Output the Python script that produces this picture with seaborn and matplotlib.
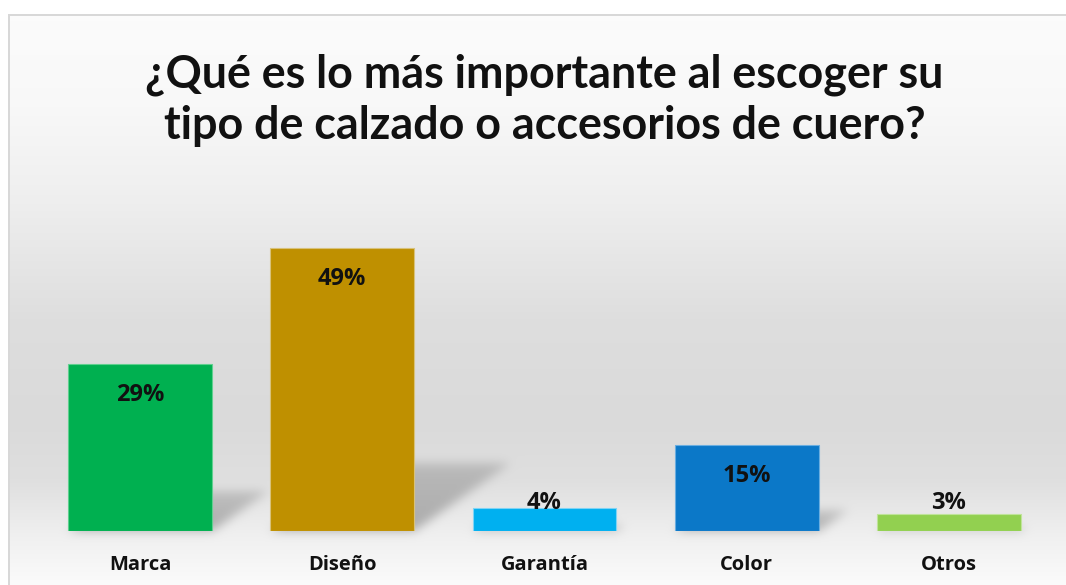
import numpy as np
import matplotlib
matplotlib.use("Agg")
import matplotlib.pyplot as plt
from matplotlib.path import Path
from matplotlib import font_manager
import seaborn as sns

# ---- data ----
categories = ["Marca", "Diseño", "Garantía", "Color", "Otros"]
values = [29, 49, 4, 15, 3]
value_labels = ["29%", "49%", "4%", "15%", "3%"]
colors = ["#00B050", "#BF9000", "#00B0F0", "#0B78C8", "#92D050"]
edge_colors = ["#5fd08f", "#d8c27a", "#7fd4f5", "#6aaee0", "#c0e49a"]
title_lines = ["¿Qué es lo más importante al escoger su",
               "tipo de calzado o accesorios de cuero?"]

W, H = 1066, 585
sns.set_theme(style="white")
plt.rcParams["font.family"] = ["Open Sans", "DejaVu Sans"]

installed = {f.name for f in font_manager.fontManager.ttflist}
title_family = ["Liberation Sans Narrow", "Lato", "DejaVu Sans"]
title_family = [f for f in title_family if f in installed]

fig = plt.figure(figsize=(W / 100, H / 100), dpi=100)
fig.patch.set_facecolor("white")

bg_ax = fig.add_axes([0, 0, 1, 1], zorder=0)
bg_ax.set_axis_off()

left_px, right_px, base_px, top_px = 39, 1050, 531, 185
ax = fig.add_axes([left_px / W, (H - base_px) / H,
                   (right_px - left_px) / W, (base_px - top_px) / H], zorder=1)
ax.patch.set_alpha(0)

sns.barplot(x=categories, y=values, hue=categories, palette=colors, legend=False,
            width=0.712, saturation=1, ax=ax, zorder=3)
for p, ec in zip(ax.patches, edge_colors):
    p.set_edgecolor(ec)
    p.set_linewidth(0.8)

ax.set_xlim(-0.5, len(categories) - 0.5)
ax.set_ylim(0, 60)
for s in ax.spines.values():
    s.set_visible(False)
ax.set_yticks([])
ax.set_xlabel("")
ax.set_ylabel("")
ax.tick_params(axis="x", length=0, pad=17.5)
for t in ax.get_xticklabels():
    t.set_fontsize(14.5)
    t.set_fontweight("bold")
    t.set_color("#111111")

for i, (v, lab) in enumerate(zip(values, value_labels)):
    x0, y0 = ax.transData.transform((i, 0))
    x1, y1 = ax.transData.transform((i, v))
    if y1 - y0 > 45:
        ax.annotate(lab, (i, v), xytext=(0, -31), textcoords="offset pixels",
                    ha="center", va="center", fontsize=17, fontweight="bold",
                    color="#111111", zorder=5)
    else:
        ax.annotate(lab, (i, 0), xytext=(0, 28), textcoords="offset pixels",
                    ha="center", va="center", fontsize=17, fontweight="bold",
                    color="#111111", zorder=5)

# ---- background gradient ----
yy = np.arange(H)
stops_y = [0, 15, 100, 200, 320, 420, 480, 535, 585]
stops_v = [0.985, 0.985, 0.975, 0.935, 0.87, 0.855, 0.875, 0.94, 0.985]
prof = np.interp(yy, stops_y, stops_v)
img = np.repeat(prof[:, None], W, axis=1)

gx, gy = np.meshgrid(np.arange(W) + 0.5, np.arange(H) + 0.5)
pts = np.column_stack([gx.ravel(), gy.ravel()])
shadow = np.zeros((H, W))
for p in ax.patches:
    bb = p.get_window_extent()
    xl, xr = bb.x0, bb.x1
    b = H - bb.y0
    h = bb.y1 - bb.y0
    dx, dy = 0.34 * h, 0.24 * h
    if dy < 1:
        continue
    poly = Path([(xl, b), (xr, b), (xr + dx, b - dy), (xl + dx, b - dy), (xl, b)])
    m = poly.contains_points(pts).reshape(H, W).astype(float)
    fade = np.clip(1 - 0.45 * (b - gy) / dy, 0, 1)
    shadow = np.maximum(shadow, m * fade)

def blur(a, sigma):
    r = int(3 * sigma)
    k = np.exp(-0.5 * (np.arange(-r, r + 1) / sigma) ** 2)
    k /= k.sum()
    out = np.zeros_like(a)
    pad = np.pad(a, ((0, 0), (r, r)), mode="edge")
    for j, w in enumerate(k):
        out += w * pad[:, j:j + a.shape[1]]
    pad = np.pad(out, ((r, r), (0, 0)), mode="edge")
    out2 = np.zeros_like(a)
    for j, w in enumerate(k):
        out2 += w * pad[j:j + a.shape[0], :]
    return out2

shadow = blur(shadow, 5)
img = img * (1 - 0.28 * shadow)

img[:14, :] = 1.0
img[:, :8] = 1.0
img[14:16, 8:] = 0.85
img[14:, 8:10] = 0.85

bg_ax.imshow(np.dstack([img] * 3), extent=(0, W, H, 0), aspect="auto",
             interpolation="nearest")
bg_ax.set_xlim(0, W)
bg_ax.set_ylim(H, 0)

# ---- title ----
cx = (left_px + right_px) / 2 / W
t1 = fig.text(cx, 1 - 87 / H, title_lines[0], ha="center", va="baseline",
              fontsize=30, fontweight="bold", family=title_family,
              color="#111111")
fig.canvas.draw()
w1 = t1.get_window_extent().width
fs = 30 * 800 / w1
t1.set_fontsize(fs)
fig.text(cx, 1 - 139 / H, title_lines[1], ha="center", va="baseline",
         fontsize=fs, fontweight="bold", family=title_family,
         color="#111111")

fig.savefig("out.png", dpi=100)
